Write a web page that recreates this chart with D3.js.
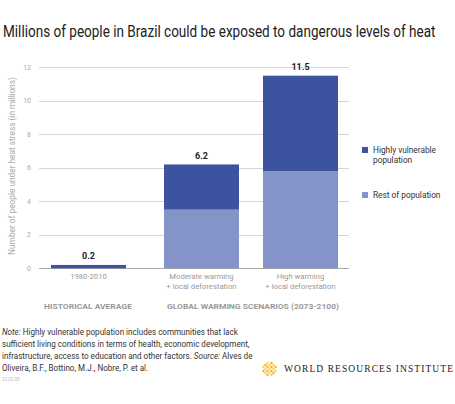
<!DOCTYPE html>
<html>
<head>
<meta charset="utf-8">
<script src="https://cdn.jsdelivr.net/npm/d3@7"></script>
<style>
  body { margin: 0; background: #fff; }
  svg { display: block; font-family: Roboto, "Liberation Sans", sans-serif; }
</style>
</head>
<body>
<div id="chart"></div>
<script>
// data
var categories = ["1980-2010", "Moderate warming|+ local deforestation", "High warming|+ local deforestation"];
var groups = ["historical", "scenario", "scenario"];
var restOfPopulation = [0, 3.5, 5.8];
var highlyVulnerable = [0.2, 2.7, 5.7];
var totals = ["0.2", "6.2", "11.5"];
var yTicks = [0, 2, 4, 6, 8, 10, 12];
var seriesNames = ["Highly vulnerable|population", "Rest of population"];
var groupLabels = ["HISTORICAL AVERAGE", "GLOBAL WARMING SCENARIOS (2073-2100)"];

var width = 455, height = 404;
var colDark = "#3c54a0", colLight = "#8494c9";

var svg = d3.select("#chart").append("svg").attr("width", width).attr("height", height);

// squeeze a text horizontally so it spans w pixels
function fitWidth(sel, x0, w) {
   var len = sel.node().getBBox().width;
   sel.attr("transform", "translate(" + x0 + ",0) scale(" + (w / len) + ",1)");
}

// title
var title = svg.append("text").attr("x", 0).attr("y", 37)
   .attr("font-size", 16.5).attr("fill", "#222")
   .text("Millions of people in Brazil could be exposed to dangerous levels of heat");
fitWidth(title, 3, 433);

var y = d3.scaleLinear().domain([0, 12]).range([268.3, 67.3]);

var x = d3.scaleBand().domain(categories).range([51, 51 + 273]).paddingInner(24 / 99).paddingOuter(0);
var groupGap = 14;
function bx(d, i) { return x(d) + (groups[i] == "scenario" ? groupGap : 0); }

// gridlines
svg.append("g").selectAll("line").data(yTicks).enter().append("line")
   .attr("x1", 39).attr("x2", 349)
   .attr("y1", function(d) { return Math.round(y(d)) + 0.5; })
   .attr("y2", function(d) { return Math.round(y(d)) + 0.5; })
   .attr("stroke", function(d) { return d == 0 ? "#aaa" : "#d6d6d6"; }).attr("stroke-width", 1);

// y ticks
svg.append("g").selectAll("text").data(yTicks).enter().append("text")
   .attr("x", 31).attr("y", function(d) { return y(d) + 2.5; })
   .attr("text-anchor", "end").attr("font-size", 7).attr("fill", "#aaa")
   .text(function(d) { return d; });

svg.append("text").attr("transform", "translate(15,166) rotate(-90)")
   .attr("text-anchor", "middle").attr("font-size", 8.3).attr("fill", "#aaa")
   .text("Number of people under heat stress (in millions)");

// stacked bars
var bars = svg.append("g").selectAll("g").data(categories).enter().append("g");
bars.append("rect")
   .attr("x", bx).attr("width", x.bandwidth())
   .attr("y", function(d, i) { return y(restOfPopulation[i]); })
   .attr("height", function(d, i) { return y(0) - y(restOfPopulation[i]); })
   .attr("fill", colLight);
bars.append("rect")
   .attr("x", bx).attr("width", x.bandwidth())
   .attr("y", function(d, i) { return y(restOfPopulation[i] + highlyVulnerable[i]); })
   .attr("height", function(d, i) { return y(restOfPopulation[i]) - y(restOfPopulation[i] + highlyVulnerable[i]); })
   .attr("fill", colDark);
bars.append("text")
   .attr("x", function(d, i) { return bx(d, i) + x.bandwidth() / 2; })
   .attr("y", function(d, i) { return y(restOfPopulation[i] + highlyVulnerable[i]) - 5.5; })
   .attr("text-anchor", "middle").attr("font-size", 9).attr("font-weight", "bold").attr("fill", "#222")
   .text(function(d, i) { return totals[i]; });

// x labels
bars.each(function(d, i) {
   var lines = d.split("|");
   var t = d3.select(this).append("text")
      .attr("x", bx(d, i) + x.bandwidth() / 2).attr("y", 279)
      .attr("text-anchor", "middle").attr("font-size", 7.7).attr("fill", "#999");
   lines.forEach(function(l, k) {
      t.append("tspan").attr("x", bx(d, i) + x.bandwidth() / 2).attr("dy", k == 0 ? 0 : 10.3).text(l);
   });
});

// group labels
svg.append("text").attr("x", 44).attr("y", 309)
   .attr("font-size", 7.6).attr("font-weight", "bold").attr("fill", "#999")
   .attr("textLength", 88).attr("lengthAdjust", "spacingAndGlyphs")
   .text(groupLabels[0]);
svg.append("text").attr("x", 167).attr("y", 309)
   .attr("font-size", 7.6).attr("font-weight", "bold").attr("fill", "#999")
   .attr("textLength", 172).attr("lengthAdjust", "spacingAndGlyphs")
   .text(groupLabels[1]);

// legend
var legend = svg.append("g").selectAll("g").data(seriesNames).enter().append("g")
   .attr("transform", function(d, i) { return "translate(362," + (147 + i * 45) + ")"; });
legend.append("rect").attr("width", 6).attr("height", 6)
   .attr("fill", function(d, i) { return i == 0 ? colDark : colLight; });
legend.each(function(d) {
   var t = d3.select(this).append("text").attr("x", 11).attr("y", 6)
      .attr("font-size", 8.3).attr("fill", "#333");
   d.split("|").forEach(function(l, k) {
      t.append("tspan").attr("x", 11).attr("dy", k == 0 ? 0 : 10).text(l);
   });
});

// note
var note = svg.append("g").attr("transform", "translate(2,0) scale(0.86,1)");
var noteLines = [
   [["Note:", true], [" Highly vulnerable population includes communities that lack", false]],
   [["sufficient living conditions in terms of health, economic development,", false]],
   [["infrastructure, access to education and other factors. ", false], ["Source:", true], ["  Alves de", false]],
   [["Oliveira, B.F., Bottino, M.J., Nobre, P. et al.", false]]
];
noteLines.forEach(function(line, k) {
   var t = note.append("text").attr("x", 0).attr("y", 335 + k * 12)
      .attr("font-size", 9.4).attr("fill", "#333");
   line.forEach(function(p) {
      t.append("tspan").attr("font-style", p[1] ? "italic" : "normal").text(p[0]);
   });
});
svg.append("text").attr("x", 2).attr("y", 381).attr("font-size", 4.5).attr("fill", "#bbb").text("23.02.08");

// logo
var logo = svg.append("g").attr("transform", "translate(269.5,369)");
var cells = [];
for (var a = -2; a <= 2; a++) for (var b = -2; b <= 2; b++) if (Math.abs(a) + Math.abs(b) <= 3) cells.push([a, b]);
logo.selectAll("path").data(cells).enter().append("path")
   .attr("d", function(c) {
      var cx = (c[0] - c[1]) * 2, cy = (c[0] + c[1]) * 2;
      return "M" + cx + "," + (cy - 1.6) + "L" + (cx + 1.6) + "," + cy + "L" + cx + "," + (cy + 1.6) + "L" + (cx - 1.6) + "," + cy + "Z";
   })
   .attr("fill", function(c, i) { return i % 2 ? "#f6b21a" : "#fcd04a"; });
svg.append("text").attr("x", 284).attr("y", 372).attr("font-family", "'Liberation Serif', serif")
   .attr("font-size", 9.5).attr("fill", "#222").attr("textLength", 169).attr("lengthAdjust", "spacing")
   .text("WORLD RESOURCES INSTITUTE");
</script>
</body>
</html>
